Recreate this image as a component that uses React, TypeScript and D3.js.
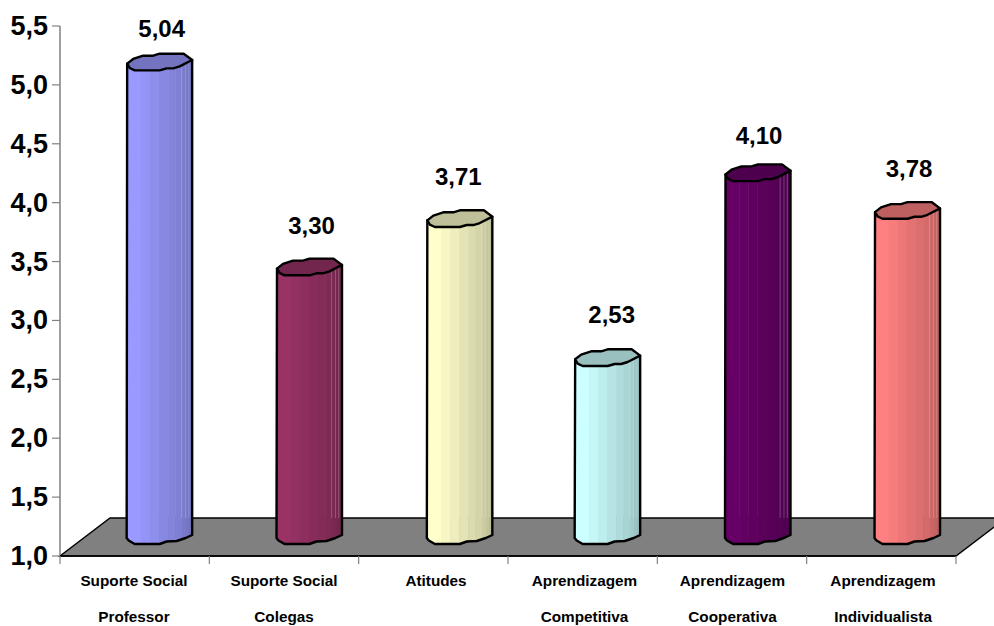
import React from "react";
import * as d3 from "d3";

const categories = [
  ["Suporte Social", "Professor"],
  ["Suporte Social", "Colegas"],
  ["Atitudes", ""],
  ["Aprendizagem", "Competitiva"],
  ["Aprendizagem", "Cooperativa"],
  ["Aprendizagem", "Individualista"],
];
const values = [5.04, 3.3, 3.71, 2.53, 4.1, 3.78];
const valueLabels = ["5,04", "3,30", "3,71", "2,53", "4,10", "3,78"];
const barColors = ["#9999FF", "#993366", "#FFFFCC", "#CCFFFF", "#660066", "#FF8080"];
const tickValues = [1, 1.5, 2, 2.5, 3, 3.5, 4, 4.5, 5, 5.5];

const FONT = "'Liberation Sans', Arial, sans-serif";
const WIDTH = 994;
const HEIGHT = 626;

// Oblique depth of the 3D floor
const depthX = 50;
const depthY = 38;

const y = d3.scaleLinear().domain([1, 5.5]).range([556, 26]);
const x = d3.scaleBand<number>().domain(d3.range(categories.length)).range([60, 956]);

// Per-slot hand placement, in pixels, of cylinders and their text
const barNudge = [0, 0.5, 1.5, 0, 1, 1.2];
const categoryNudge = [-0.7, 0, 2.7, 1.8, 0.5, 1.7];
const valueNudgeX = [0, 0.5, -2, 2, 0, 0.7];
const valueLift = [0, 8, 9, 10, 4, 9];

// Faceted outline of a cylinder cap, relative to its centre (half-width 32.5)
const capOutline: [number, number][] = [
  [-32.5, 2], [-26.5, -2.7], [-16.5, -6], [-6.5, -6], [0, -8], [24, -8], [32.5, -1.7],
  [20, 4.7], [13.5, 6.7], [7, 6.7], [0, 8.7], [-25, 8.7], [-30, 6.3],
];
// Lower rim of the cylinder, left to right
const rimOutline: [number, number][] = [
  [-33, 1], [-31, 3.5], [-25, 7], [0, 7], [7, 4.5], [17, 4], [26, 1], [32.5, -2],
];
// Shading bands across the cylinder: right edge (fraction of width), brightness factor
const bandEdges = [0.21, 0.35, 0.49, 0.63, 0.74, 0.84, 0.9, 0.95, 1];
const bandShade = [1, 0.97, 0.93, 0.89, 0.86, 0.83, 0.8, 0.77, 0.74];
// Pale seams running down the shaded side as far as the back of the floor
const seamEdges = [0.84, 0.9, 0.95];

const shade = (c: string, k: number) => {
  const r = d3.rgb(c);
  return d3.rgb(r.r * k, r.g * k, r.b * k).formatHex();
};
const line = d3.line();

export default function App() {
  const halfW = 32.5;
  const floorBack = y(1) - depthY;
  return (
    <svg
      width={WIDTH}
      height={HEIGHT}
      viewBox={`0 0 ${WIDTH} ${HEIGHT}`}
      style={{ position: "absolute", left: 0, top: 0, display: "block" }}
      fontFamily={FONT}
    >
      <rect width={WIDTH} height={HEIGHT} fill="#fff" />
      {/* floor */}
      <path
        d={line([
          [60, y(1)],
          [60 + depthX, floorBack],
          [956 + depthX, floorBack],
          [956, y(1)],
        ])! + "Z"}
        fill="#808080"
        stroke="#000"
        strokeWidth={1.5}
      />
      {/* value axis */}
      <line x1={60} x2={60} y1={y(5.5)} y2={y(1)} stroke="#808080" strokeWidth={1.5} />
      {tickValues.map((t) => (
        <g key={t}>
          <line x1={52} x2={60} y1={y(t)} y2={y(t)} stroke="#808080" strokeWidth={1.2} />
          <text x={48} y={y(t) + 9} textAnchor="end" fontSize={27} fontWeight={700} fill="#000">
            {t.toFixed(1).replace(".", ",")}
          </text>
        </g>
      ))}
      {/* category axis */}
      <line x1={60} x2={956} y1={y(1)} y2={y(1)} stroke="#000" strokeWidth={1.5} />
      {d3.range(categories.length + 1).map((i) => {
        const tx = 60 + i * x.bandwidth();
        return <line key={i} x1={tx} x2={tx} y1={y(1)} y2={564} stroke="#808080" strokeWidth={1.2} />;
      })}
      {categories.map((c, i) => {
        const cx = x(i)! + x.bandwidth() / 2 + categoryNudge[i];
        return (
          <g key={i} fontSize={15.3} fontWeight={700} textAnchor="middle" fill="#000">
            <text x={cx} y={586}>{c[0]}</text>
            {c[1] && <text x={cx} y={622}>{c[1]}</text>}
          </g>
        );
      })}
      {/* cylinders */}
      {values.map((v, i) => {
        const slot = x(i)! + x.bandwidth() / 2 + depthX / 2;
        const cx = slot + barNudge[i];
        const topY = y(v) - depthY / 2 + 0.5;
        const baseY = y(1) - depthY / 2;
        const cap = capOutline.map(([dx, dy]) => [cx + dx, topY + dy] as [number, number]);
        const rim = rimOutline.map(([dx, dy]) => [cx + dx, baseY + dy] as [number, number]);
        const body = line([[cx - halfW, topY + 2], ...rim, [cx + halfW, topY - 1.7]])! + "Z";
        const clipId = `cyl-${i}`;
        return (
          <g key={i}>
            <clipPath id={clipId}><path d={body} /></clipPath>
            <g clipPath={`url(#${clipId})`}>
              {bandEdges.map((e, j) => {
                const start = j === 0 ? 0 : bandEdges[j - 1];
                return (
                  <rect
                    key={j}
                    x={cx - halfW + start * 2 * halfW}
                    width={(e - start) * 2 * halfW + 0.5}
                    y={topY - 10}
                    height={baseY - topY + 30}
                    fill={shade(barColors[i], bandShade[j])}
                  />
                );
              })}
              {seamEdges.map((e) => (
                <line
                  key={e}
                  x1={cx - halfW + e * 2 * halfW}
                  x2={cx - halfW + e * 2 * halfW}
                  y1={topY}
                  y2={floorBack}
                  stroke="#fff"
                  strokeOpacity={0.22}
                  strokeWidth={1}
                />
              ))}
            </g>
            <path d={body} fill="none" stroke="#000" strokeWidth={2.4} strokeLinejoin="round" />
            <path
              d={line(cap)! + "Z"}
              fill={shade(barColors[i], 0.75)}
              stroke="#000"
              strokeWidth={2.4}
              strokeLinejoin="round"
            />
            <text
              x={slot + 2 + valueNudgeX[i]}
              y={y(v) - 43 - valueLift[i]}
              textAnchor="middle"
              fontSize={24}
              fontWeight={700}
              fill="#000"
            >
              {valueLabels[i]}
            </text>
          </g>
        );
      })}
    </svg>
  );
}
